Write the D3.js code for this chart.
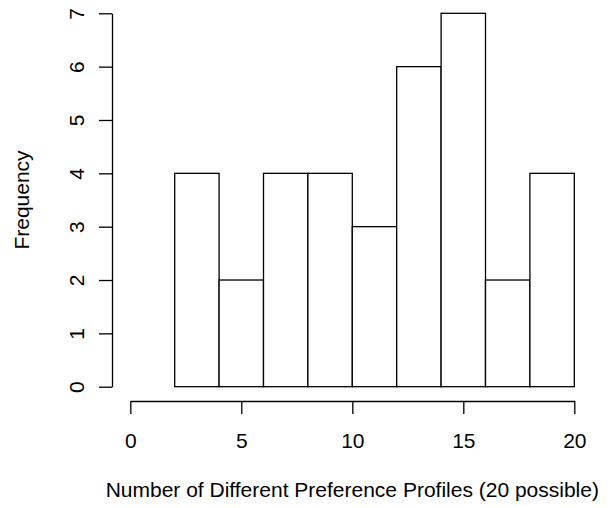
<!DOCTYPE html>
<html>
<head>
<meta charset="utf-8">
<script src="https://cdn.jsdelivr.net/npm/d3@7"></script>
<style>
  html, body { margin: 0; padding: 0; background: #fff; }
  svg text { font-family: "Liberation Sans", Arial, Helvetica, sans-serif; fill: #000; }
</style>
</head>
<body>
<svg id="chart" width="610" height="508"></svg>
<script>
// Histogram bins: [start, end) and their counts
const binStarts = [2, 4, 6, 8, 10, 12, 14, 16, 18];
const binWidth = 2;
const counts = [4, 2, 4, 4, 3, 6, 7, 2, 4];
const xTicks = [0, 5, 10, 15, 20];
const yTicks = [0, 1, 2, 3, 4, 5, 6, 7];
const xTitle = "Number of Different Preference Profiles (20 possible)";
const yTitle = "Frequency";

const FONT = 21;
const svg = d3.select("#chart");
const x = d3.scaleLinear().domain([0, 20]).range([130.3, 574.3]);
const y = d3.scaleLinear().domain([0, 7]).range([386.7, 13.3]);

// Bars
svg.append("g")
  .selectAll("rect")
  .data(binStarts.map((s, i) => ({ s, c: counts[i] })))
  .join("rect")
  .attr("x", d => x(d.s))
  .attr("y", d => y(d.c))
  .attr("width", d => x(d.s + binWidth) - x(d.s))
  .attr("height", d => y(0) - y(d.c))
  .attr("fill", "#fff")
  .attr("stroke", "#000")
  .attr("stroke-width", 1.3);

// X axis, offset below the bars
const xAxis = svg.append("g")
  .attr("transform", "translate(0,401)")
  .call(d3.axisBottom(x).tickValues(xTicks).tickFormat(d3.format("d"))
    .tickSize(13).tickPadding(19).tickSizeOuter(0));
xAxis.select(".domain").attr("stroke-width", 1.3);
xAxis.selectAll(".tick line").attr("stroke-width", 1.3);
xAxis.selectAll(".tick text").attr("font-size", FONT).attr("font-family", null);

// Y axis, offset left of the bars, labels rotated
const yAxis = svg.append("g")
  .attr("transform", "translate(112,0)")
  .call(d3.axisLeft(y).tickValues(yTicks).tickFormat(d3.format("d"))
    .tickSize(13).tickSizeOuter(0));
yAxis.select(".domain").attr("stroke-width", 1.3);
yAxis.selectAll(".tick line").attr("stroke-width", 1.3);
yAxis.selectAll(".tick text")
  .attr("font-size", FONT)
  .attr("font-family", null)
  .attr("x", null).attr("dy", null)
  .attr("text-anchor", "middle")
  .attr("transform", "translate(-28,0) rotate(-90)");

// Axis titles
svg.append("text")
  .attr("x", (x(0) + x(20)) / 2)
  .attr("y", 497)
  .attr("text-anchor", "middle")
  .attr("font-size", FONT)
  .text(xTitle);

svg.append("text")
  .attr("transform", `translate(29,${(y(0) + y(7)) / 2}) rotate(-90)`)
  .attr("text-anchor", "middle")
  .attr("font-size", FONT)
  .text(yTitle);
</script>
</body>
</html>
